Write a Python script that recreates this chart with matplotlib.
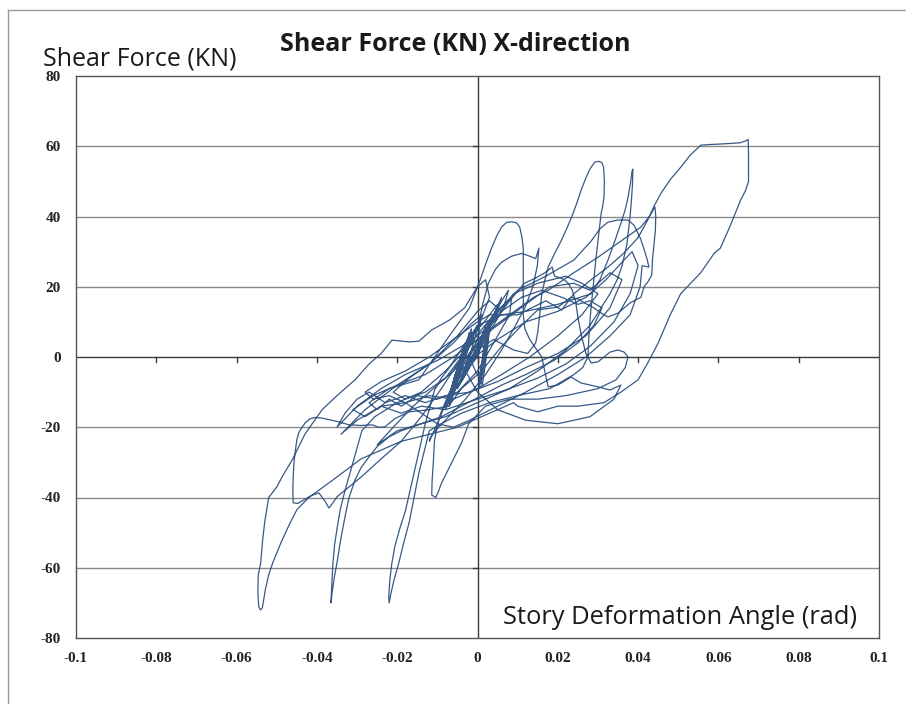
import matplotlib
matplotlib.use("Agg")
import matplotlib.pyplot as plt
from matplotlib.lines import Line2D
import numpy as np

# ---------------- data (story drift angle [rad], shear force [kN]) ----------------
cluster_x = [0.0, -0.001, -0.003, -0.0065, -0.0058, -0.004, -0.002, -0.0035, -0.0055, -0.007,
             -0.0062, -0.0045, -0.0015, -0.003, -0.0052, -0.0075, -0.0066, -0.0048, -0.0025,
             -0.0038, -0.0048, -0.006, -0.0052, -0.0038, -0.002, -0.0035, -0.0058, -0.007,
             -0.0061, -0.0044, -0.001, -0.0028, -0.0052, -0.0068, -0.006, -0.0043, -0.0015,
             -0.003, -0.0058, -0.008, -0.0068, -0.005, -0.003, -0.0042, -0.0055, -0.006, -0.0053,
             -0.004, -0.002, -0.0032, -0.0054, -0.0072, -0.0063, -0.0046, -0.001, -0.0026,
             -0.005, -0.0065, -0.0057, -0.0042, 0.0, -0.0022, -0.0055, -0.0078, -0.0069, -0.005,
             -0.002, -0.0036, -0.0058, -0.007, -0.006, -0.0045, -0.002]
cluster_y = [0, 3, -1, -11, -8, -2, 6, 1, -5, -12, -9, -3, 7, 2, -5, -13, -10, -3, 5, 0, -4,
             -10, -8, -2, 7, 1, -6, -14, -11, -4, 6, 1, -5, -12, -9, -2, 8, 2, -6, -15, -12, -4,
             4, 0, -5, -11, -8, -2, 6, 1, -5, -13, -10, -3, 7, 2, -4, -12, -9, -2, 9, 3, -5, -14,
             -11, -3, 5, 0, -6, -12, -9, -2, 6]

spikes_x = [0.001, 0.003, 0.005, 0.004, 0.001, -0.002, -0.004, -0.002, 0.002, 0.0055, 0.0077,
            0.0065, 0.003, -0.001, -0.004, -0.006, -0.003, 0.001, 0.004, 0.006, 0.005, 0.002,
            -0.002, -0.005, -0.003]
spikes_y = [9, 12, 15, 11, 5, -2, -6, 0, 8, 15, 19, 14, 7, -1, -7, -10, -4, 5, 12, 17, 13, 6,
            -3, -9, -3]

second_x = [0.0, 0.002, 0.0028, 0.0015, 0.0005, 0.0012, 0.0022, 0.003, 0.0018, 0.001, 0.0004,
            0.0016, 0.0026, 0.0032, 0.002, 0.0008, 0.0002, 0.0014, 0.0025, 0.003, 0.0015,
            0.0006, -0.0005]
second_y = [2, 9, 10, 2, -6, -8, 0, 8, 4, -4, -9, -3, 5, 10, 3, -5, -9, -2, 6, 9, 1, -6, -4]

cyc1_x = [-0.002, 0.0, 0.0013, 0.0027, 0.0045, 0.006, 0.0085, 0.011, 0.0135, 0.0145, 0.0153,
          0.0149, 0.0138, 0.0118, 0.009, 0.006, 0.002, -0.003, -0.008, -0.0105, -0.0118, -0.012,
          -0.0112, -0.0098, -0.0075, -0.004, 0.0, 0.004, 0.008]
cyc1_y = [0, 8, 15, 21, 25, 27, 28.7, 29.5, 28.5, 28, 31, 26, 20, 14, 8, 2, -5, -12, -18,
          -21, -23, -24, -22, -18.5, -12, -5, 3, 10, 16]

cyc2_x = [0.0117, 0.0145, 0.0168, 0.0186, 0.0192, 0.0205, 0.0216, 0.0226, 0.0236, 0.0244,
          0.025, 0.0258, 0.0266, 0.027, 0.0275, 0.0283, 0.030, 0.0315, 0.033, 0.035, 0.0365,
          0.0375, 0.0368, 0.0345, 0.03, 0.022, 0.015, 0.008, 0.002, -0.0022, -0.004, -0.0057,
          -0.0075, -0.009, -0.0098, -0.0104, -0.0114, -0.0113, -0.011, -0.0107, -0.0095,
          -0.007, -0.004, 0.0, 0.004, 0.009, 0.0125, 0.0145]
cyc2_y = [21, 22.5, 24, 25.6, 23, 22.6, 22, 21, 19, 16, 11.4, 6.5, 2.8, 1, 0, -1.7, -1.4, 0,
          1.4, 2, 1.4, 0, -3, -6.5, -9, -11, -12, -12, -14, -19, -24.5, -28.4, -32.5, -36,
          -38.5, -40, -39.3, -35, -30, -23.6, -17, -10, -4, 2, 5, 2, 1, 4]

cyc3_x = [0.015, 0.0155, 0.016, 0.0168, 0.0176, 0.019, 0.0208, 0.0222, 0.0235, 0.0248, 0.0258,
          0.027, 0.028, 0.0292, 0.0303, 0.031, 0.0314, 0.0316, 0.0315, 0.0312, 0.0308, 0.0302,
          0.0295, 0.0288, 0.0282, 0.0278, 0.0275, 0.0262, 0.024, 0.018, 0.01, 0.003, -0.004,
          -0.009, -0.012, -0.0133, -0.0146, -0.0158, -0.017, -0.0184, -0.0196, -0.0208, -0.0216,
          -0.022, -0.0221, -0.0218, -0.0213, -0.0206, -0.0194, -0.018, -0.0168, -0.0156, -0.0143,
          -0.013, -0.0118, -0.0107, -0.009, -0.007, -0.003, 0.0]
cyc3_y = [7, 12, 18, 22, 25.6, 29, 33, 36.5, 40, 44, 47.5, 51, 53.5, 55.5, 55.7, 55.3, 54, 50,
          45.5, 43, 41, 35, 28, 20, 13, 7, 0, -3, -5, -9, -11, -13, -16, -19, -21, -27, -33, -40,
          -47, -53, -58.6, -63.5, -67.5, -70, -68, -63, -58.5, -54, -49, -44, -38, -32, -25.5,
          -19, -14, -9.4, -6, -3, 4, 9]

cyc4_x = [0.006, 0.012, 0.02, 0.0255, 0.0283, 0.0305, 0.0325, 0.0342, 0.0357, 0.0368, 0.0375,
          0.0381, 0.0385, 0.0387, 0.0386, 0.0383, 0.038, 0.0372, 0.036, 0.0348, 0.033, 0.028,
          0.022, 0.015, 0.008, 0.0, -0.008, -0.014, -0.019, -0.022, -0.025, -0.027, -0.029,
          -0.0305, -0.032, -0.033, -0.034, -0.035, -0.0357, -0.0362, -0.0365, -0.0363, -0.036,
          -0.0356, -0.035, -0.0342, -0.033, -0.031, -0.0288, -0.0256, -0.02, -0.014, -0.008,
          -0.003, 0.002]
cyc4_y = [12, 13, 15, 17, 18, 22, 27.6, 33, 38, 42, 45.5, 49.5, 53, 53.5, 49, 44, 40, 32, 26,
          22, 18, 9, 2, -4, -9, -13, -17, -19, -21, -22.7, -25.5, -28.4, -31.5, -35, -40, -45.5,
          -51.5, -58.6, -63, -67, -70, -65, -58.6, -53.5, -49, -43.5, -38, -30, -21, -17, -13,
          -10, -4, 2, 7]

cyc5_x = [0.008, 0.014, 0.0176, 0.024, 0.030, 0.0357, 0.0407, 0.0428, 0.0442, 0.0444, 0.0443,
          0.0436, 0.0434, 0.0425, 0.0415, 0.0407, 0.038, 0.035, 0.0325, 0.0305, 0.029, 0.0266,
          0.025, 0.0233, 0.0215, 0.020, 0.015, 0.011, 0.006, 0.001, -0.004, -0.0072, -0.012,
          -0.017, -0.0205, -0.0231, -0.0246, -0.0263, -0.029, -0.032, -0.0355, -0.0387, -0.0405,
          -0.0417, -0.0428, -0.0437, -0.0445, -0.045, -0.0454, -0.0457, -0.0459, -0.046, -0.0459,
          -0.0448, -0.0437, -0.0415, -0.0395, -0.038, -0.037, -0.036, -0.035, -0.032, -0.0288,
          -0.024, -0.019, -0.014, -0.009, -0.005, -0.001, 0.004, 0.01]
cyc5_y = [12, 17, 19, 24, 28.4, 33, 37, 40, 42.7, 40, 36, 28, 23.3, 21.5, 20, 17, 15.4, 12.5,
          11.4, 12.7, 14, 15.4, 16.5, 17, 15.5, 14.2, 13.4, 9, 3, -4, -9, -14, -15, -15.6, -17.5,
          -19.9, -20, -19.3, -19.5, -19.3, -18.2, -17.4, -17.2, -17.6, -18.6, -20, -21.5, -23.6,
          -27, -30, -34, -38, -41.5, -41.7, -41, -39.5, -38.7, -41, -43, -41.5, -39.8, -37, -34,
          -29, -24, -17, -9, -2, 5, 12, 19]

cyc6_x = [0.017, 0.024, 0.0283, 0.0305, 0.0325, 0.035, 0.0375, 0.039, 0.0405, 0.0414, 0.0422,
          0.0427, 0.041, 0.0405, 0.038, 0.033, 0.027, 0.02, 0.012, 0.005, -0.002, -0.006, -0.01,
          -0.014, -0.018, -0.022, -0.026, -0.028, -0.024, -0.018, -0.012, -0.006, 0.0, 0.003]
cyc6_y = [23, 27.6, 33, 36.5, 38.4, 39, 39, 37.5, 34, 31, 28, 25.6, 26, 20, 12, 6, 0, -5, -10,
          -14, -18, -20, -19, -16, -13, -11, -12, -10, -7, -4, 0, 5, 10, 12]

cyc7_x = [0.01, 0.017, 0.021, 0.024, 0.0283, 0.0325, 0.0365, 0.04, 0.0424, 0.044, 0.0457,
          0.048, 0.0506, 0.053, 0.0556, 0.058, 0.06, 0.063, 0.0655, 0.067, 0.0674, 0.0675,
          0.0675, 0.0668, 0.0655, 0.063, 0.0605, 0.059, 0.0556, 0.0506, 0.048, 0.045, 0.0425,
          0.04, 0.0357, 0.0315, 0.025, 0.02, 0.015, 0.01, 0.009, 0.003, -0.005, -0.012, -0.019,
          -0.029, -0.036, -0.042, -0.045, -0.047, -0.049, -0.051, -0.052, -0.0528, -0.0533,
          -0.0536, -0.0541, -0.0545, -0.0547, -0.0546, -0.054, -0.0535, -0.053, -0.0525, -0.052,
          -0.05, -0.0486, -0.046, -0.043, -0.0387, -0.035, -0.0305, -0.027, -0.024, -0.0213,
          -0.017, -0.0146, -0.0114, -0.007, -0.0032, 0.0, 0.001, 0.0022, 0.0035, 0.0048, 0.006,
          0.0072, 0.0085, 0.0097, 0.0105, 0.011, 0.0114, 0.0114, 0.0114, 0.0118, 0.013, 0.016,
          0.0176, 0.02, 0.0233, 0.0258, 0.03, 0.033, 0.0357, 0.034, 0.028, 0.02, 0.012, 0.005,
          0.0, -0.003, 0.0]
cyc7_y = [12, 16, 13.4, 18, 22, 25.6, 29.6, 34, 39, 43, 46.6, 50.5, 54, 57.5, 60.3, 60.5, 60.6,
          60.8, 61, 61.6, 62, 58, 50, 47.5, 44.6, 37.5, 31, 29.6, 24, 18, 12, 4, -1.5, -6.5,
          -10, -13, -14, -14, -15.6, -14, -13, -16, -20, -22, -24, -29, -35, -40, -43.5, -48,
          -53, -58.6, -62, -66, -69.5, -71.5, -72, -71, -67, -62, -58.6, -52, -47, -43.5, -40,
          -37, -34, -29, -22, -15, -11, -6.5, -2, 1, 4.8, 4.3, 4.5, 7.7, 10.5, 14, 20, 23, 27,
          31, 34.5, 37, 38.3, 38.5, 38.2, 37, 34.5, 31, 22, 12, 8, 5, 0, -8.5, -8, -5.7, -7.4,
          -8.5, -9.4, -8, -12, -17, -19, -18, -15, -10, -4, 0]

cyc8_x = [0.002, 0.006, 0.0085, 0.008, 0.004, 0.0, -0.005, -0.01, -0.015, -0.019, -0.022,
          -0.025, -0.027, -0.022, -0.0146, -0.0072, -0.002, 0.0, 0.002, 0.003, 0.0, -0.004,
          -0.008, -0.013, -0.018, -0.021, -0.017, -0.012, -0.006, -0.002, 0.001, 0.0, -0.003]
cyc8_y = [8, 14, 17, 12, 4, -4, -10, -12, -11, -14, -12, -15, -13, -9, -6.5, 5.7, 14, 20, 22,
          17, 8, 0, -6, -10, -12, -10, -6, -2, 4, 9, 12, 5, -2]

cyc9_x = [0.005, 0.012, 0.02, 0.027, 0.032, 0.036, 0.0385, 0.040, 0.038, 0.034, 0.028, 0.022,
          0.015, 0.008, 0.0, -0.008, -0.014, -0.019, -0.024, -0.028, -0.031, -0.026, -0.02,
          -0.013, -0.006, 0.0]
cyc9_y = [5, 10, 13, 17, 22, 27, 30, 26, 18, 10, 3, -2, -6, -9, -12, -15, -14, -16, -14, -17,
          -15, -11, -8, -5, 0, 5]

cyc10_x = [0.005, 0.012, 0.018, 0.024, 0.028, 0.033, 0.036, 0.033, 0.027, 0.02, 0.012, 0.005,
           -0.002, -0.008, -0.013, -0.018, -0.023, -0.027, -0.03, -0.033, -0.035, -0.03, -0.024,
           -0.018, -0.01, -0.004, 0.0]
cyc10_y = [9, 15, 20, 21, 19, 24, 22, 14, 6, 1, -3, -7, -10, -11, -13, -11, -13, -10, -12, -16,
           -20, -14, -9, -5, -1, 3, 6]

cyc11_x = [0.004, 0.009, 0.015, 0.022, 0.026, 0.03, 0.026, 0.02, 0.013, 0.006, 0.0, -0.006,
           -0.012, -0.018, -0.024, -0.03, -0.034, -0.028, -0.02, -0.012, -0.005, 0.0, 0.003]
cyc11_y = [10, 18, 21, 23, 21, 18, 12, 6, 0, -5, -9, -12, -11, -13, -14, -18, -22, -15, -8, -2,
           6, 13, 16]

cyc12_x = [0.006, 0.011, 0.016, 0.021, 0.025, 0.028, 0.031, 0.029, 0.025, 0.019, 0.012, 0.006,
           0.001, -0.004, -0.009, -0.014, -0.02, -0.025, -0.021, -0.016, -0.011, -0.006, -0.002,
           0.002]
cyc12_y = [13, 17, 19, 17, 15, 16, 14, 9, 4, -1, -5, -8, -11, -14, -17, -19, -21, -25, -20, -14,
           -9, -4, 1, 6]

cycles_x = [cluster_x, spikes_x, second_x, cyc1_x, cyc2_x, cyc3_x, cyc4_x, cyc5_x, cyc6_x,
            cyc7_x, cyc8_x, cyc9_x, cyc10_x, cyc11_x, cyc12_x]
cycles_y = [cluster_y, spikes_y, second_y, cyc1_y, cyc2_y, cyc3_y, cyc4_y, cyc5_y, cyc6_y,
            cyc7_y, cyc8_y, cyc9_y, cyc10_y, cyc11_y, cyc12_y]

x_ticks = [-0.1, -0.08, -0.06, -0.04, -0.02, 0, 0.02, 0.04, 0.06, 0.08, 0.1]
x_tick_labels = ["-0.1", "-0.08", "-0.06", "-0.04", "-0.02", "0", "0.02", "0.04", "0.06", "0.08", "0.1"]
y_ticks = [-80, -60, -40, -20, 0, 20, 40, 60, 80]
y_tick_labels = ["-80", "-60", "-40", "-20", "0", "20", "40", "60", "80"]

title_text = "Shear Force (KN) X-direction"
y_title = "Shear Force (KN)"
x_title = "Story Deformation Angle (rad)"

# ---------------- figure ----------------
W, H = 906, 704
fig = plt.figure(figsize=(W / 100, H / 100), dpi=100)
fig.patch.set_facecolor("white")

ax = fig.add_axes([76 / W, 1 - 638 / H, (879 - 76) / W, (638 - 76) / H])
ax.set_xlim(-0.1, 0.1)
ax.set_ylim(-80, 80)

# horizontal gridlines
for yt in y_ticks[1:-1]:
    if yt != 0:
        ax.axhline(yt, color="#8a8a8a", lw=1.0, zorder=1)

# zero axes
ax.axhline(0, color="#3a3a3a", lw=1.0, zorder=1)
ax.axvline(0, color="#3a3a3a", lw=1.0, zorder=1)
for xt in x_ticks[1:-1]:
    ax.plot([xt, xt], [0, -1.5], color="#3a3a3a", lw=1.0, zorder=1)
for yt in y_ticks[1:-1]:
    ax.plot([0, -0.0012], [yt, yt], color="#3a3a3a", lw=1.0, zorder=1)

# hysteresis curve
hx = np.concatenate([np.asarray(c, float) for c in cycles_x])
hy = np.concatenate([np.asarray(c, float) for c in cycles_y])
ax.plot(hx, hy, color="#2c5080", lw=0.9, alpha=0.95, zorder=3,
        solid_joinstyle="round")

for s in ax.spines.values():
    s.set_color("#555555")
    s.set_linewidth(1.0)

ax.set_xticks(x_ticks)
ax.set_xticklabels(x_tick_labels)
ax.set_yticks(y_ticks)
ax.set_yticklabels(y_tick_labels)
ax.tick_params(axis="x", length=0, pad=10)
ax.tick_params(axis="y", length=0, pad=11)
for lab in ax.get_xticklabels() + ax.get_yticklabels():
    lab.set_family("Liberation Serif")
    lab.set_fontsize(11)
    lab.set_fontweight("bold")
    lab.set_color("#222222")

# texts
fig.text(455 / W, 1 - 51 / H, title_text, ha="center", va="baseline",
         fontsize=18, fontweight="bold", family="Open Sans", color="#1a1a1a")
fig.text(43 / W, 1 - 66 / H, y_title, ha="left", va="baseline",
         fontsize=18, family="Open Sans", color="#1a1a1a")
fig.text(857 / W, 1 - 624 / H, x_title, ha="right", va="baseline",
         fontsize=18.4, family="Open Sans", color="#1a1a1a")

# outer frame
fig.add_artist(Line2D([8 / W, 8 / W], [0, 1 - 10 / H], transform=fig.transFigure,
                      color="#9a9a9a", lw=1.0))
fig.add_artist(Line2D([8 / W, 1], [1 - 10 / H, 1 - 10 / H], transform=fig.transFigure,
                      color="#9a9a9a", lw=1.0))

fig.savefig("out.png", dpi=100, facecolor="white")
